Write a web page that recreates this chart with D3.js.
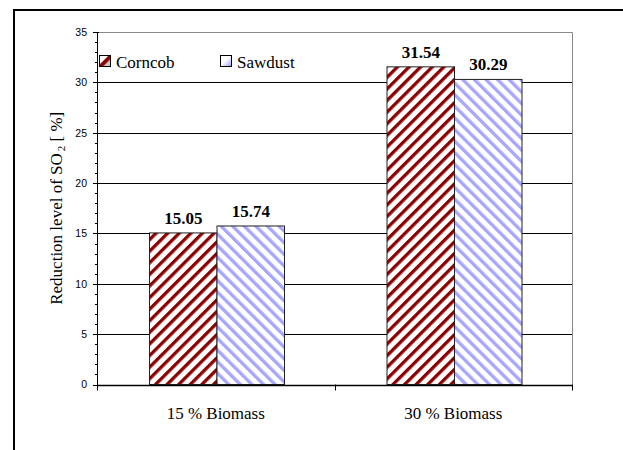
<!DOCTYPE html>
<html>
<head>
<meta charset="utf-8">
<script src="https://cdn.jsdelivr.net/npm/d3@7"></script>
<style>
  html, body { margin: 0; padding: 0; background: #fff; }
  svg { display: block; }
  .serif { font-family: "Liberation Serif", "Times New Roman", Tinos, "DejaVu Serif", serif; }
  .sans { font-family: "Liberation Sans", Arial, Arimo, "DejaVu Sans", sans-serif; }
</style>
</head>
<body>
<svg id="chart" width="623" height="450"></svg>
<script>
// Biomass share in the blend (x categories)
const categories = ["15 % Biomass", "30 % Biomass"];
// Fuel types (series)
const seriesNames = ["Corncob", "Sawdust"];
// SO2 reduction level [%] for each fuel, per category
const corncobValues = [15.05, 31.54];
const sawdustValues = [15.74, 30.29];
// Y axis
const yTicks = [0, 5, 10, 15, 20, 25, 30, 35];
const yMinorTicks = d3.range(0, 36, 1);

const svg = d3.select("#chart");
const defs = svg.append("defs");

const plot = { left: 97, right: 572, top: 32, bottom: 384.5 };

// Hatch patterns for the bars
function hatch(id, color, angle) {
  const p = defs.append("pattern")
    .attr("id", id)
    .attr("patternUnits", "userSpaceOnUse")
    .attr("width", 8.2).attr("height", 8.2)
    .attr("patternTransform", `rotate(${angle})`);
  p.append("rect").attr("width", 8.2).attr("height", 8.2).attr("fill", "#fff");
  p.append("rect").attr("x", 0).attr("y", 0).attr("width", 3.3).attr("height", 8.2).attr("fill", color);
}
hatch("hatchCorncob", "#8b0000", 45);
hatch("hatchSawdust", "#a6a6ff", -45);

// Small swatch gradients for the legend
const gC = defs.append("linearGradient").attr("id", "swC")
  .attr("x1", "0").attr("y1", "0").attr("x2", "1").attr("y2", "1");
[["0%", "#ffffff"], ["38%", "#ffffff"], ["45%", "#8b0000"], ["62%", "#8b0000"], ["70%", "#c8c8c8"], ["100%", "#c8c8c8"]]
  .forEach(([o, c]) => gC.append("stop").attr("offset", o).attr("stop-color", c));
const gS = defs.append("linearGradient").attr("id", "swS")
  .attr("x1", "0").attr("y1", "0").attr("x2", "1").attr("y2", "1");
[["0%", "#ffffff"], ["45%", "#ffffff"], ["100%", "#9a9aff"]]
  .forEach(([o, c]) => gS.append("stop").attr("offset", o).attr("stop-color", c));

const fills = { Corncob: "url(#hatchCorncob)", Sawdust: "url(#hatchSawdust)" };
const swatches = { Corncob: "url(#swC)", Sawdust: "url(#swS)" };

// Outer frame (runs past the right and bottom edges)
svg.append("path")
  .attr("d", "M14,460 L14,10 L640,10")
  .attr("fill", "none").attr("stroke", "#000").attr("stroke-width", 2);

// Scales
const y = d3.scaleLinear().domain([0, 35]).range([plot.bottom, plot.top]);
const x0 = d3.scaleBand().domain(categories).range([plot.left, plot.right]).padding(0);
const x1 = d3.scaleBand().domain(seriesNames).range([52, 187]).padding(0);

// Gridlines
svg.append("g").selectAll("line").data(yTicks.filter(d => d > 0 && d < 35)).join("line")
  .attr("x1", plot.left).attr("x2", plot.right)
  .attr("y1", d => Math.round(y(d)) + 0.5).attr("y2", d => Math.round(y(d)) + 0.5)
  .attr("stroke", "#000").attr("stroke-width", 1);

// Plot area border (top and right)
svg.append("path")
  .attr("d", `M${plot.left},${plot.top + 0.5} L${plot.right + 0.5},${plot.top + 0.5} L${plot.right + 0.5},${plot.bottom}`)
  .attr("fill", "none").attr("stroke", "#888").attr("stroke-width", 1);

// Bars
const rows = categories.map((c, i) => ({
  category: c,
  values: [
    { series: "Corncob", value: corncobValues[i] },
    { series: "Sawdust", value: sawdustValues[i] }
  ]
}));

const groups = svg.append("g").selectAll("g").data(rows).join("g")
  .attr("transform", d => `translate(${x0(d.category)},0)`);

groups.selectAll("rect").data(d => d.values).join("rect")
  .attr("x", d => x1(d.series) + 0.5)
  .attr("y", d => y(d.value))
  .attr("width", x1.bandwidth())
  .attr("height", d => plot.bottom - y(d.value))
  .attr("fill", d => fills[d.series])
  .attr("stroke", "#222").attr("stroke-width", 1);

// Value labels
groups.selectAll("text").data(d => d.values).join("text")
  .attr("class", "serif")
  .attr("x", d => x1(d.series) + x1.bandwidth() / 2 + 0.5)
  .attr("y", d => y(d.value) - 9)
  .attr("text-anchor", "middle")
  .attr("font-weight", "bold")
  .attr("font-size", 17)
  .attr("fill", "#000")
  .text(d => d.value.toFixed(2));

// Y axis
const yAxisG = svg.append("g");
yAxisG.append("line")
  .attr("x1", plot.left + 0.5).attr("x2", plot.left + 0.5)
  .attr("y1", plot.top).attr("y2", plot.bottom + 5)
  .attr("stroke", "#000");
yAxisG.selectAll("line.minor").data(yMinorTicks).join("line").attr("class", "minor")
  .attr("x1", plot.left - 2).attr("x2", plot.left)
  .attr("y1", d => Math.round(y(d)) + 0.5).attr("y2", d => Math.round(y(d)) + 0.5)
  .attr("stroke", "#000");
yAxisG.selectAll("line.major").data(yTicks).join("line").attr("class", "major")
  .attr("x1", plot.left - 4).attr("x2", plot.left + 2)
  .attr("y1", d => Math.round(y(d)) + 0.5).attr("y2", d => Math.round(y(d)) + 0.5)
  .attr("stroke", "#000");
yAxisG.selectAll("text").data(yTicks).join("text")
  .attr("class", "sans")
  .attr("x", plot.left - 10)
  .attr("y", d => y(d) + 3.8)
  .attr("text-anchor", "end")
  .attr("font-size", 10.5)
  .attr("fill", "#000")
  .text(d => d);

// X axis
const xAxisG = svg.append("g");
xAxisG.append("line")
  .attr("x1", plot.left).attr("x2", plot.right + 1)
  .attr("y1", Math.round(plot.bottom) + 0.5).attr("y2", Math.round(plot.bottom) + 0.5)
  .attr("stroke", "#000").attr("stroke-width", 1.5);
const xTickPos = [plot.left, ...categories.map(c => x0(c) + x0.bandwidth())];
xAxisG.selectAll("line.tick").data(xTickPos).join("line").attr("class", "tick")
  .attr("x1", d => Math.round(d) + 0.5).attr("x2", d => Math.round(d) + 0.5)
  .attr("y1", plot.bottom).attr("y2", plot.bottom + 6)
  .attr("stroke", "#000");
xAxisG.selectAll("text").data(categories).join("text")
  .attr("class", "serif")
  .attr("x", d => x0(d) + x0.bandwidth() / 2)
  .attr("y", 419)
  .attr("text-anchor", "middle")
  .attr("font-size", 17)
  .attr("fill", "#000")
  .text(d => d);

// Y axis title
const title = svg.append("text")
  .attr("class", "serif")
  .attr("transform", `translate(62,${(plot.top + plot.bottom) / 2}) rotate(-90)`)
  .attr("text-anchor", "middle")
  .attr("font-size", 17)
  .attr("fill", "#000");
title.append("tspan").text("Reduction level of SO");
title.append("tspan").attr("font-size", 11).attr("dx", 2).attr("dy", 3).text("2");
title.append("tspan").attr("dy", -3).text(" [ %]");

// Legend
const legend = svg.append("g");
const legendX = [99, 220];
seriesNames.forEach((name, i) => {
  const g = legend.append("g").attr("transform", `translate(${legendX[i]},55)`);
  g.append("rect").attr("x", 0.5).attr("y", 0.5).attr("width", 11).attr("height", 11)
    .attr("fill", swatches[name]).attr("stroke", "#000");
  g.append("text").attr("class", "serif").attr("x", 17).attr("y", 13)
    .attr("font-size", 17)
    .attr("fill", "#000")
    .text(name);
});
</script>
</body>
</html>
